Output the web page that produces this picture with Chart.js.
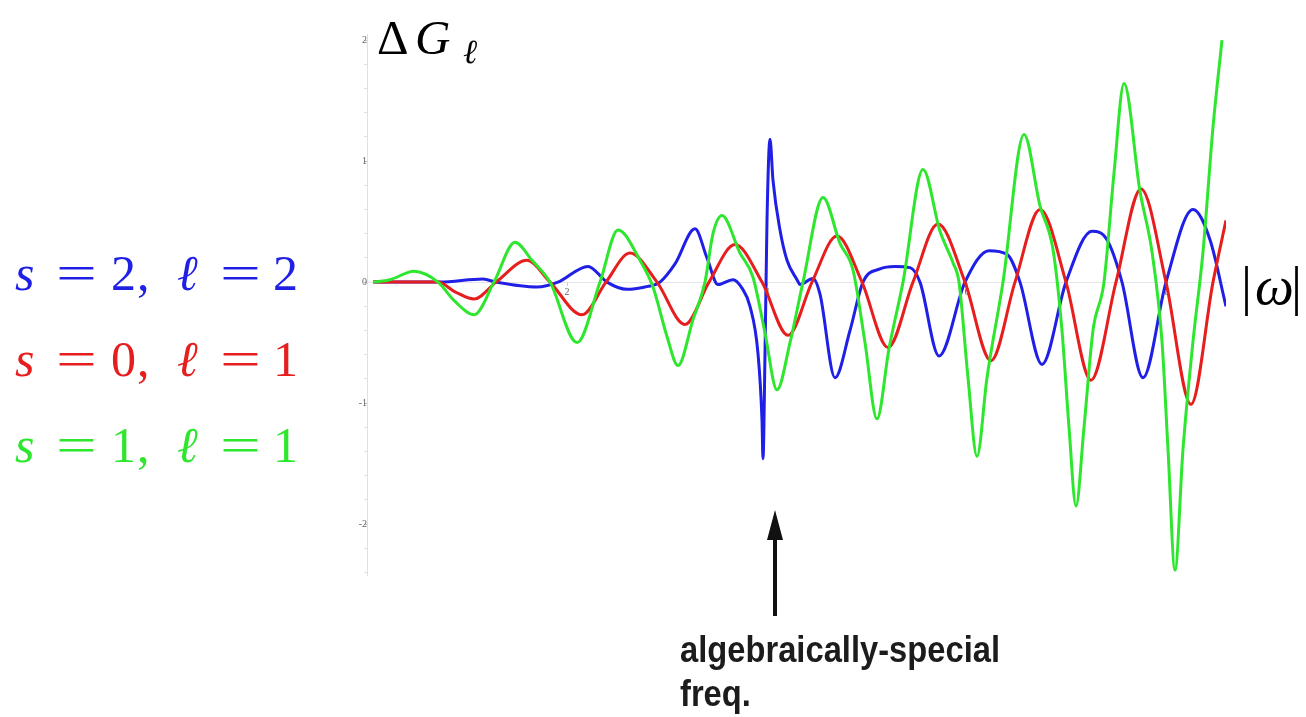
<!DOCTYPE html>
<html>
<head>
<meta charset="utf-8">
<script src="https://cdn.jsdelivr.net/npm/chart.js@4.4.1/dist/chart.umd.min.js"></script>
<style>
  html, body { margin: 0; padding: 0; background: #fff; }
  #wrap { position: relative; width: 1306px; height: 717px; overflow: hidden; }
  #plot { position: absolute; left: 0; top: 0; }
  .tex { position: absolute; font-family: "Liberation Serif", "DejaVu Serif", serif; white-space: pre; line-height: 1; }
  .tex span { position: absolute; top: 0; }
  .it { font-style: italic; }
  .eq { transform: scaleX(1.45); transform-origin: left center; }
  #note { position: absolute; left: 680px; font-family: "Liberation Sans Narrow", "Liberation Sans", Roboto, sans-serif;
          font-weight: bold; font-size: 36px; color: #1c1c1c; white-space: nowrap; transform-origin: left top; line-height: 1; }
</style>
</head>
<body>
<div id="wrap">
  <canvas id="plot" width="1306" height="717"></canvas>

  <div class="tex" style="left:377px; top:13px; font-size:49px; color:#000;">
    <span style="left:0">Δ</span><span class="it" style="left:38px">G</span><span class="it" style="left:86px; top:22px; font-size:34px">ℓ</span>
  </div>
  <div class="tex" style="left:1241px; top:258px; font-size:55px; color:#000;">
    <span style="left:0">|</span><span class="it" style="left:14px">ω</span><span style="left:50px">|</span>
  </div>

  <div id="legend"></div>

  <div id="note">algebraically-special<br>freq.</div>
</div>

<script>
// omega (x) and Delta G_l (y)
const blueOmega = [0.06, 0.73, 1.16, 1.29, 1.70, 1.91, 2.21, 2.40, 2.60, 2.78, 2.93, 3.08, 3.28, 3.40, 3.51, 3.66, 3.75, 3.83, 3.91, 3.95, 3.96, 3.98, 4.00, 4.03, 4.06, 4.13, 4.20, 4.30, 4.33, 4.46, 4.53, 4.68, 4.83, 4.96, 5.13, 5.28, 5.43, 5.53, 5.72, 5.98, 6.22, 6.40, 6.53, 6.75, 6.99, 7.25, 7.40, 7.55, 7.76, 7.99, 8.26, 8.43, 8.59];
const blueDG    = [0.00, 0.00, 0.025, 0.00, -0.04, 0.00, 0.13, 0.00, -0.06, -0.04, 0.00, 0.15, 0.44, 0.20, -0.02, 0.02, -0.05, -0.20, -0.59, -1.14, -1.46, -0.59, 0.51, 1.18, 0.84, 0.43, 0.18, 0.02, -0.02, 0.03, -0.10, -0.79, -0.40, 0.00, 0.11, 0.13, 0.12, 0.00, -0.61, 0.00, 0.26, 0.23, 0.00, -0.68, 0.00, 0.42, 0.35, 0.00, -0.79, 0.00, 0.60, 0.35, -0.20];

const redOmega = [0.06, 0.71, 0.88, 1.07, 1.29, 1.60, 1.83, 2.15, 2.39, 2.63, 2.90, 3.18, 3.42, 3.68, 3.95, 4.21, 4.45, 4.70, 4.95, 5.21, 5.46, 5.71, 5.98, 6.24, 6.48, 6.73, 6.99, 7.24, 7.49, 7.74, 7.99, 8.24, 8.46, 8.59];
const redDG    = [0.00, 0.00, -0.08, -0.14, 0.00, 0.18, 0.00, -0.27, 0.00, 0.24, 0.00, -0.35, 0.00, 0.31, 0.00, -0.44, 0.00, 0.38, 0.00, -0.54, 0.00, 0.48, 0.00, -0.65, 0.00, 0.60, 0.00, -0.81, 0.00, 0.77, 0.00, -1.01, 0.00, 0.51];

const greenOmega = [0.06, 0.23, 0.47, 0.71, 0.88, 1.07, 1.27, 1.48, 1.65, 1.83, 2.10, 2.33, 2.51, 2.73, 2.86, 3.00, 3.11, 3.26, 3.38, 3.46, 3.55, 3.73, 3.86, 3.98, 4.10, 4.23, 4.36, 4.56, 4.73, 4.86, 4.98, 5.10, 5.22, 5.36, 5.56, 5.73, 5.86, 5.92, 6.01, 6.10, 6.20, 6.36, 6.57, 6.73, 6.86, 6.95, 7.02, 7.09, 7.17, 7.26, 7.37, 7.47, 7.57, 7.73, 7.85, 7.95, 8.01, 8.08, 8.16, 8.26, 8.36, 8.46, 8.55];
const greenDG    = [0.00, 0.02, 0.09, 0.00, -0.16, -0.27, 0.00, 0.33, 0.18, 0.00, -0.50, 0.00, 0.43, 0.18, -0.04, -0.45, -0.69, -0.31, 0.00, 0.40, 0.55, 0.24, 0.04, -0.42, -0.89, -0.50, 0.00, 0.70, 0.32, 0.10, -0.50, -1.13, -0.55, 0.00, 0.93, 0.42, 0.16, 0.00, -0.79, -1.44, -0.79, 0.00, 1.22, 0.63, 0.27, -0.40, -1.20, -1.85, -1.20, -0.40, 0.00, 0.90, 1.64, 0.75, 0.25, -0.49, -1.38, -2.38, -1.38, -0.49, 0.25, 1.28, 2.00];

// tick values on both axes
const omegaTicks = [2, 4, 6, 8];
const dgTicks = [-2, -1, 0, 1, 2];

// where the algebraically-special frequency sits on the omega axis
const specialOmega = 4.08;

const BLUE = '#1f1fe6';
const RED = '#e61e1e';
const GREEN = '#2ee62e';

const legendRows = [
  { color: BLUE, s: '2', l: '2', top: 248 },
  { color: RED, s: '0', l: '1', top: 334 },
  { color: GREEN, s: '1', l: '1', top: 420 }
];

// LaTeX-ish legend, one glyph group per span
const legend = document.getElementById('legend');
legendRows.forEach(row => {
  const d = document.createElement('div');
  d.className = 'tex';
  d.style.cssText = `left:15px; top:${row.top}px; font-size:50px; color:${row.color};`;
  d.innerHTML =
    `<span class="it" style="left:0">s</span>` +
    `<span class="eq" style="left:41px">=</span>` +
    `<span style="left:96px">${row.s}</span>` +
    `<span style="left:122px">,</span>` +
    `<span class="it" style="left:162px">ℓ</span>` +
    `<span class="eq" style="left:205px">=</span>` +
    `<span style="left:258px">${row.l}</span>`;
  legend.appendChild(d);
});

// squeeze the note into its condensed width
const note = document.getElementById('note');
note.style.top = '628px';
note.style.lineHeight = '44px';
const w = note.getBoundingClientRect().width;
note.style.transform = `scaleX(${320 / w})`;

const toPoints = (xs, ys) => xs.map((x, i) => ({ x: x, y: ys[i] }));

const isWhole = v => Math.abs(v - Math.round(v)) < 1e-6;

const arrowPlugin = {
  id: 'specialArrow',
  afterDraw(chart) {
    const x = chart.scales.x.getPixelForValue(specialOmega);
    const c = chart.ctx;
    c.save();
    c.fillStyle = '#111';
    c.fillRect(x - 2, 536, 4, 80);
    c.beginPath();
    c.moveTo(x, 510);
    c.lineTo(x - 8, 540);
    c.lineTo(x + 8, 540);
    c.closePath();
    c.fill();
    c.restore();
  }
};

const ctx = document.getElementById('plot').getContext('2d');
const chart = new Chart(ctx, {
  type: 'line',
  data: {
    datasets: [
      { label: 's = 1, l = 1', data: toPoints(greenOmega, greenDG), borderColor: GREEN },
      { label: 's = 0, l = 1', data: toPoints(redOmega, redDG), borderColor: RED },
      { label: 's = 2, l = 2', data: toPoints(blueOmega, blueDG), borderColor: BLUE }
    ]
  },
  options: {
    responsive: false,
    animation: false,
    layout: { padding: { left: 367, top: 34, right: 80, bottom: 142 } },
    elements: {
      point: { radius: 0 },
      line: { borderWidth: 3, cubicInterpolationMode: 'monotone', fill: false }
    },
    plugins: { legend: { display: false }, tooltip: { enabled: false } },
    scales: {
      x: {
        type: 'linear',
        min: 0,
        max: 8.59,
        position: { y: 0 },
        border: { display: true, color: '#e4e4ec', width: 1 },
        grid: { drawOnChartArea: false, drawTicks: true, tickLength: 3, color: '#cccccc' },
        afterBuildTicks: axis => { axis.ticks = omegaTicks.map(v => ({ value: v })); },
        ticks: {
          padding: 1,
          color: '#666',
          font: { family: 'Liberation Serif', size: 10 },
          maxRotation: 0,
          callback: v => String(v)
        }
      },
      y: {
        type: 'linear',
        min: -2.42,
        max: 2.05,
        position: { x: 0 },
        border: { display: true, color: '#e0e0e0', width: 1 },
        grid: {
          drawOnChartArea: false,
          drawTicks: true,
          tickLength: 3,
          color: c => isWhole(c.tick.value) ? '#bbbbbb' : '#e2e2e2'
        },
        ticks: {
          stepSize: 0.2,
          includeBounds: false,
          autoSkip: false,
          padding: 2,
          color: '#666',
          font: { family: 'Liberation Serif', size: 10 },
          callback: v => (isWhole(v) && dgTicks.includes(Math.round(v))) ? String(Math.round(v)) : ''
        }
      }
    }
  },
  plugins: [arrowPlugin]
});
</script>
</body>
</html>
